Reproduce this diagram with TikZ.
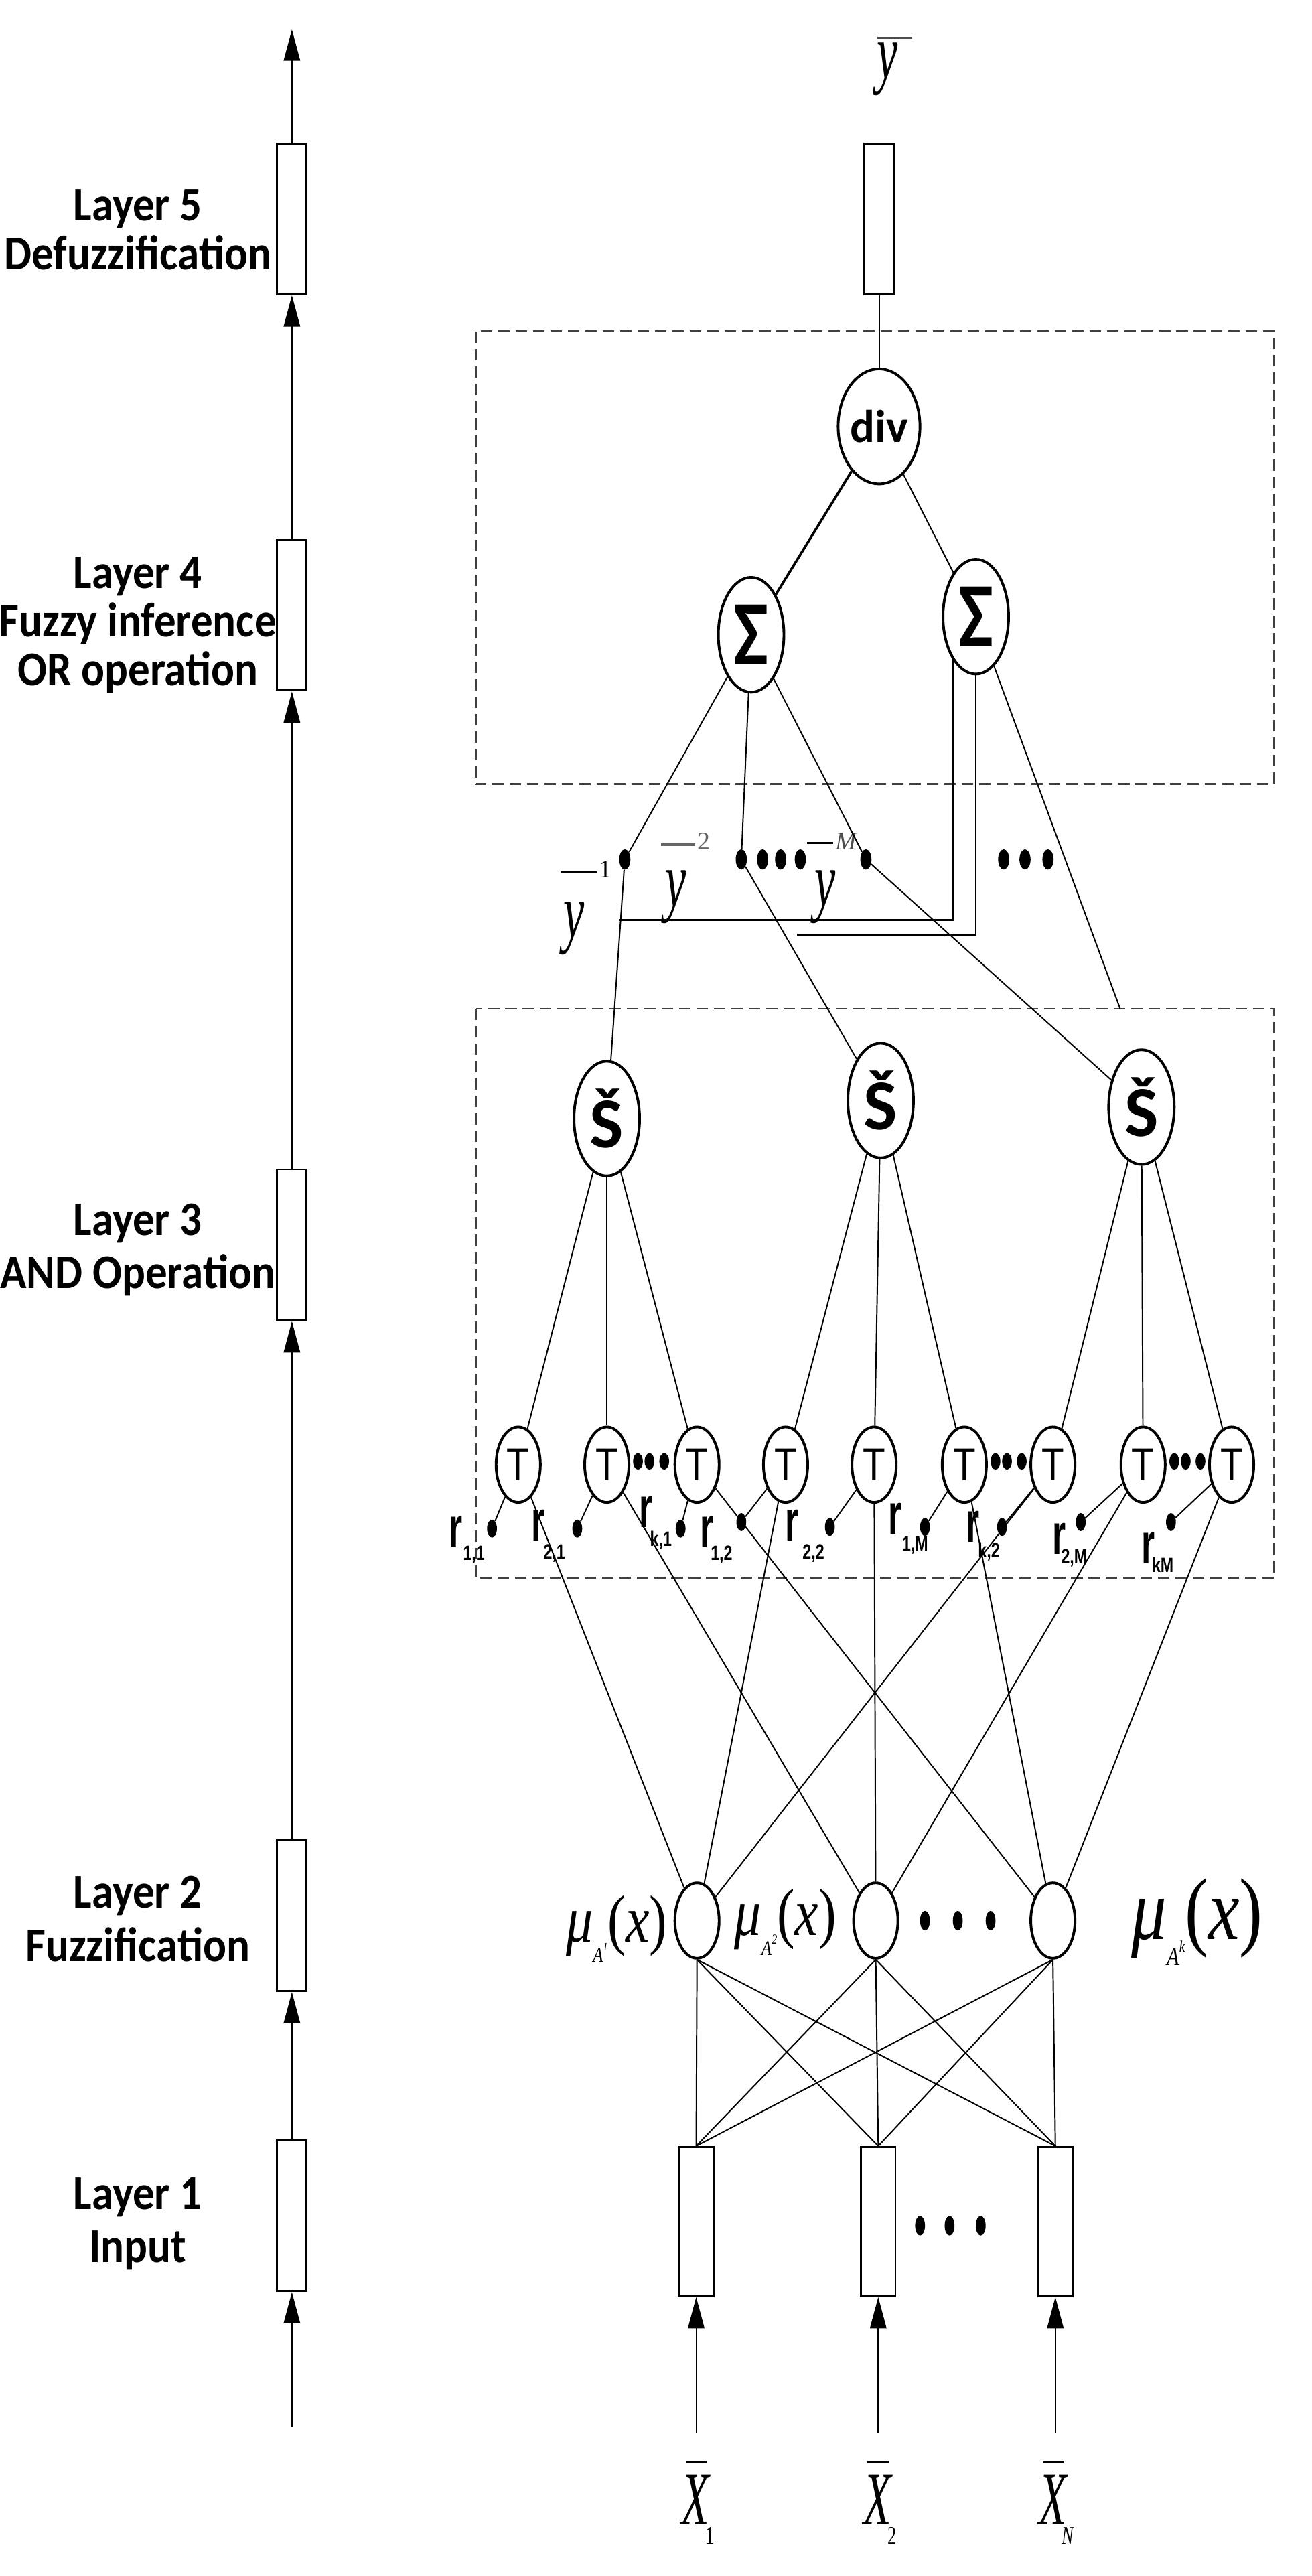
\documentclass[tikz,border=0pt]{standalone}
\usepackage{fontspec}
\setmainfont{Carlito}
\newfontfamily\arialf{Liberation Sans}
\newfontfamily\timesf{Liberation Serif}
\usetikzlibrary{shapes.geometric,arrows.meta}
\newcommand{\fsz}[1]{\fontsize{#1}{#1}\selectfont}
\newcommand{\cond}[2]{\scalebox{#1}[1]{#2}}
\newcommand{\mulab}[3]{\timesf\cond{0.8}{\itshape μ\raisebox{-0.3em}{\fsz{#1}A\raisebox{0.55em}{\fsz{#2}#3}}\upshape(\itshape x\upshape)}}
\begin{document}
\begin{tikzpicture}[x=0.05cm,y=-0.05cm,
  ln/.style={line width=0.4mm},
  el/.style={ellipse, draw, line width=0.8mm, inner sep=0pt},
  big/.style={el, minimum width=2cm, minimum height=3.5cm, font=\fsz{40pt}\bfseries},
  sm/.style={el, minimum width=1.35cm, minimum height=2.3cm},
  dot/.style={ellipse, fill, minimum width=0.34cm, minimum height=0.62cm, inner sep=0pt},
  rect/.style={draw, line width=0.6mm, minimum width=0.9cm, minimum height=4.6cm, inner sep=0pt},
  lay/.style={font=\fsz{42pt}\bfseries, align=center},
  arr/.style={line width=0.4mm, -{Triangle[length=0.95cm,width=0.5cm]}},
  box/.style={draw=black!75, line width=0.6mm, dash pattern=on 3.5mm off 1.8mm},
  rr/.style={font=\fsz{50pt}\bfseries\arialf},
  rs/.style={font=\fsz{18pt}\bfseries\arialf},
  ity/.style={font=\fsz{68pt}\timesf\itshape},
  bar/.style={line width=0.7mm},
  sup/.style={font=\fsz{22pt}\timesf}]
\useasboundingbox (0,0) rectangle (800,1570.6);

% ---------- left column ----------
\node[rect] (L5) at (178,133.5) {};
\node[rect] (L4) at (178,375) {};
\node[rect] (L3) at (178,759) {};
\node[rect] (L2) at (178,1168) {};
\node[rect] (L1) at (178,1351) {};
\coordinate (lb) at (178,1480);
\coordinate (lt) at (178,18);
\draw[arr] (lb) -- (L1.south);
\draw[arr] (L1.north) -- (L2.south);
\draw[arr] (L2.north) -- (L3.south);
\draw[arr] (L3.north) -- (L4.south);
\draw[arr] (L4.north) -- (L5.south);
\draw[arr] (L5.north) -- (lt);
\node[lay] (t5) at (84,140) {\cond{0.9}{Layer 5}\\\cond{0.9}{Defuzzification}};
\node[lay] (t4) at (84,381) {\cond{0.9}{Layer 4}\\\cond{0.9}{Fuzzy inference}\\\cond{0.9}{OR operation}};
\node[lay] (t3) at (84,762) {\cond{0.9}{Layer 3}\\[4pt]\cond{0.9}{AND Operation}};
\node[lay] (t2) at (84,1170) {\cond{0.9}{Layer 2}\\[4pt]\cond{0.9}{Fuzzification}};
\node[lay] (t1) at (84,1356) {\cond{0.9}{Layer 1}\\[4pt]\cond{0.9}{Input}};

% ---------- boxes ----------
\draw[box] (290,202) rectangle (777,478);
\draw[box] (290,615) rectangle (777,962);

% ---------- output ----------
\node[rect] (O) at (536,133.5) {};
\draw[bar,black!70] (535,23) -- (556,23);
\node[ity] (yo) at (541,42) {\cond{0.6}{y}};
\node[big] (div) at (536,260) {div};
\node[big, font=\fsz{80pt}\bfseries] (sigL) at (458,387) {\cond{0.8}{Σ}};
\node[big, font=\fsz{80pt}\bfseries] (sigR) at (595,376) {\cond{0.8}{Σ}};
\draw[ln] (O.south) -- (div);
\draw[line width=0.75mm] (div) -- (sigL);
\draw[ln] (div) -- (sigR);

% ---------- layer 4 dots ----------
\node[dot] (d1) at (381,524) {};
\node[dot] (d2) at (452,524) {};
\node[dot] (d2a) at (465,524) {};
\node[dot] (d2b) at (476,524) {};
\node[dot] (d2c) at (488,524) {};
\node[dot] (dM) at (528,524) {};
\node[dot] (e1) at (612,524) {};
\node[dot] (e2) at (625,524) {};
\node[dot] (e3) at (639,524) {};
% labels
\draw[bar] (342,532) -- (364,532);
\node[sup] (s1) at (369,530) {1};
\node[ity] (y1) at (350,566) {\cond{0.6}{y}};
\draw[bar,black!60] (403,515) -- (424,515);
\node[sup,black!60] (s2) at (429,513) {2};
\node[ity] (y2) at (412,547) {\cond{0.6}{y}};
\draw[bar] (492,514) -- (508,514);
\node[sup,font=\fsz{22pt}\timesf\itshape,black!70] (sM) at (516,513) {M};
\node[ity] (yM) at (503,547) {\cond{0.6}{y}};

% ---------- layer 3 S nodes ----------
\node[big, font=\fsz{62pt}\bfseries] (S1) at (370,682) {Š};
\node[big, font=\fsz{62pt}\bfseries] (S2) at (537,671) {Š};
\node[big, font=\fsz{62pt}\bfseries] (S3) at (696,675) {Š};

\draw[ln] (sigL) -- (d1);
\draw[ln] (sigL) -- (d2);
\draw[ln] (sigL) -- (dM);
\draw[ln] (d1) -- (S1);
\draw[ln] (d2) -- (S2);
\draw[ln] (dM) -- (S3);
\coordinate (v1) at (581,401);
\coordinate (c1) at (377.7,561);
\coordinate (c3) at (581,561);
\coordinate (c2) at (486,570);
\coordinate (c4) at (595,570);
\coordinate (c5) at (683,615);
\draw[line width=0.55mm] (v1) -- (c3) -- (c1);
\draw[line width=0.55mm] (sigR.south) -- (c4) -- (c2);
\draw[ln] (sigR) -- (c5);

% ---------- T nodes ----------
\foreach \i/\x in {1/316,2/370,3/425,4/479,5/533,6/588,7/642,8/697,9/751}{
  \node[sm, font=\fsz{40pt}\arialf] (T\i) at (\x,893) {\cond{0.8}{T}};
}
\foreach \s/\a/\b/\c in {S1/T1/T2/T3,S2/T4/T5/T6,S3/T7/T8/T9}{
  \draw[ln] (\s) -- (\a); \draw[ln] (\s) -- (\b); \draw[ln] (\s) -- (\c);
}
\foreach \x [count=\k] in {370,588,697}{
  \node[dot, minimum width=0.3cm, minimum height=0.5cm] (q\k a) at (\x+19,891) {};
  \node[dot, minimum width=0.3cm, minimum height=0.5cm] (q\k b) at (\x+26,891) {};
  \node[dot, minimum width=0.3cm, minimum height=0.5cm] (q\k c) at (\x+35,891) {};
}
% rule dots
\foreach \i/\x/\y in {1/300/932,2/352/932,3/415/932,4/452/928,5/506/931,6/564/931,7/611/931,8/659/928,9/714/928}{
  \node[dot, minimum width=0.3cm, minimum height=0.55cm] (p\i) at (\x,\y) {};
  \draw[ln] (p\i) -- (T\i);
}
% r labels
\foreach \n/\x/\y/\sx/\sy/\t in {a/278/934/289/948/{1,1},b/328/930/338/947/{2,1},c/394/922/403/939/{k,1},d/431/934/440/948/{1,2},e/483/930/496/947/{2,2},f/546/926/558/942/{1,M},g/593/931/603/946/{k,2},h/646/938/655/950/{2,M},i/700/944/709/954/{kM}}{
  \node[rr] (r\n) at (\x,\y) {\cond{0.6}{r}};
  \node[rs] (rs\n) at (\sx,\sy) {\cond{0.75}{\t}};
}

% ---------- layer 2 ----------
\node[sm] (M1) at (425,1171) {};
\node[sm] (M2) at (534,1171) {};
\node[sm] (M3) at (642,1171) {};
\foreach \m/\a/\b/\c in {M1/T1/T4/T7,M2/T2/T5/T8,M3/T3/T6/T9}{
  \draw[ln] (\m) -- (\a); \draw[ln] (\m) -- (\b); \draw[ln] (\m) -- (\c);
}
\node[dot, minimum width=0.3cm, minimum height=0.6cm] (m1) at (564,1171) {};
\node[dot, minimum width=0.3cm, minimum height=0.6cm] (m2) at (584,1171) {};
\node[dot, minimum width=0.3cm, minimum height=0.6cm] (m3) at (604,1171) {};
\node[font=\fsz{58pt}] (mu1) at (376,1176) {\mulab{18pt}{10pt}{1}};
\node[font=\fsz{58pt}] (mu2) at (479,1172) {\mulab{18pt}{12pt}{2}};
\node[font=\fsz{76pt}] (mu3) at (730,1172) {\mulab{22pt}{14pt}{k}};

% ---------- layer 1 ----------
\node[rect, minimum width=1.05cm, minimum height=4.55cm] (I1) at (424.5,1354.5) {};
\node[rect, minimum width=1.05cm, minimum height=4.55cm] (I2) at (535.5,1354.5) {};
\node[rect, minimum width=1.05cm, minimum height=4.55cm] (I3) at (643.5,1354.5) {};
\foreach \m in {M1,M2,M3}{
  \foreach \i in {I1,I2,I3}{ \draw[ln] (\m.south) -- (\i.north); }
}
\node[dot, minimum width=0.3cm, minimum height=0.6cm] (n1) at (561,1357) {};
\node[dot, minimum width=0.3cm, minimum height=0.6cm] (n2) at (579,1357) {};
\node[dot, minimum width=0.3cm, minimum height=0.6cm] (n3) at (598,1357) {};
\foreach \i/\x in {1/424.5,2/535.5,3/643.5}{
  \coordinate (ib\i) at (\x,1483);
  \draw[arr] (ib\i) -- (I\i.south);
}
\foreach \i/\x/\s/\f in {1/424/1/\upshape,2/535/2/\upshape,3/642/N/\itshape}{
  \draw[bar] (\x-6,1501) -- (\x+7,1501);
  \node[font=\fsz{66pt}\timesf\itshape] (X\i) at (\x,1524) {\cond{0.6}{X}};
  \node[font=\fsz{22pt}\timesf\f] (xs\i) at (\x+9,1546) {\cond{0.7}{\s}};
}
\end{tikzpicture}
\end{document}
